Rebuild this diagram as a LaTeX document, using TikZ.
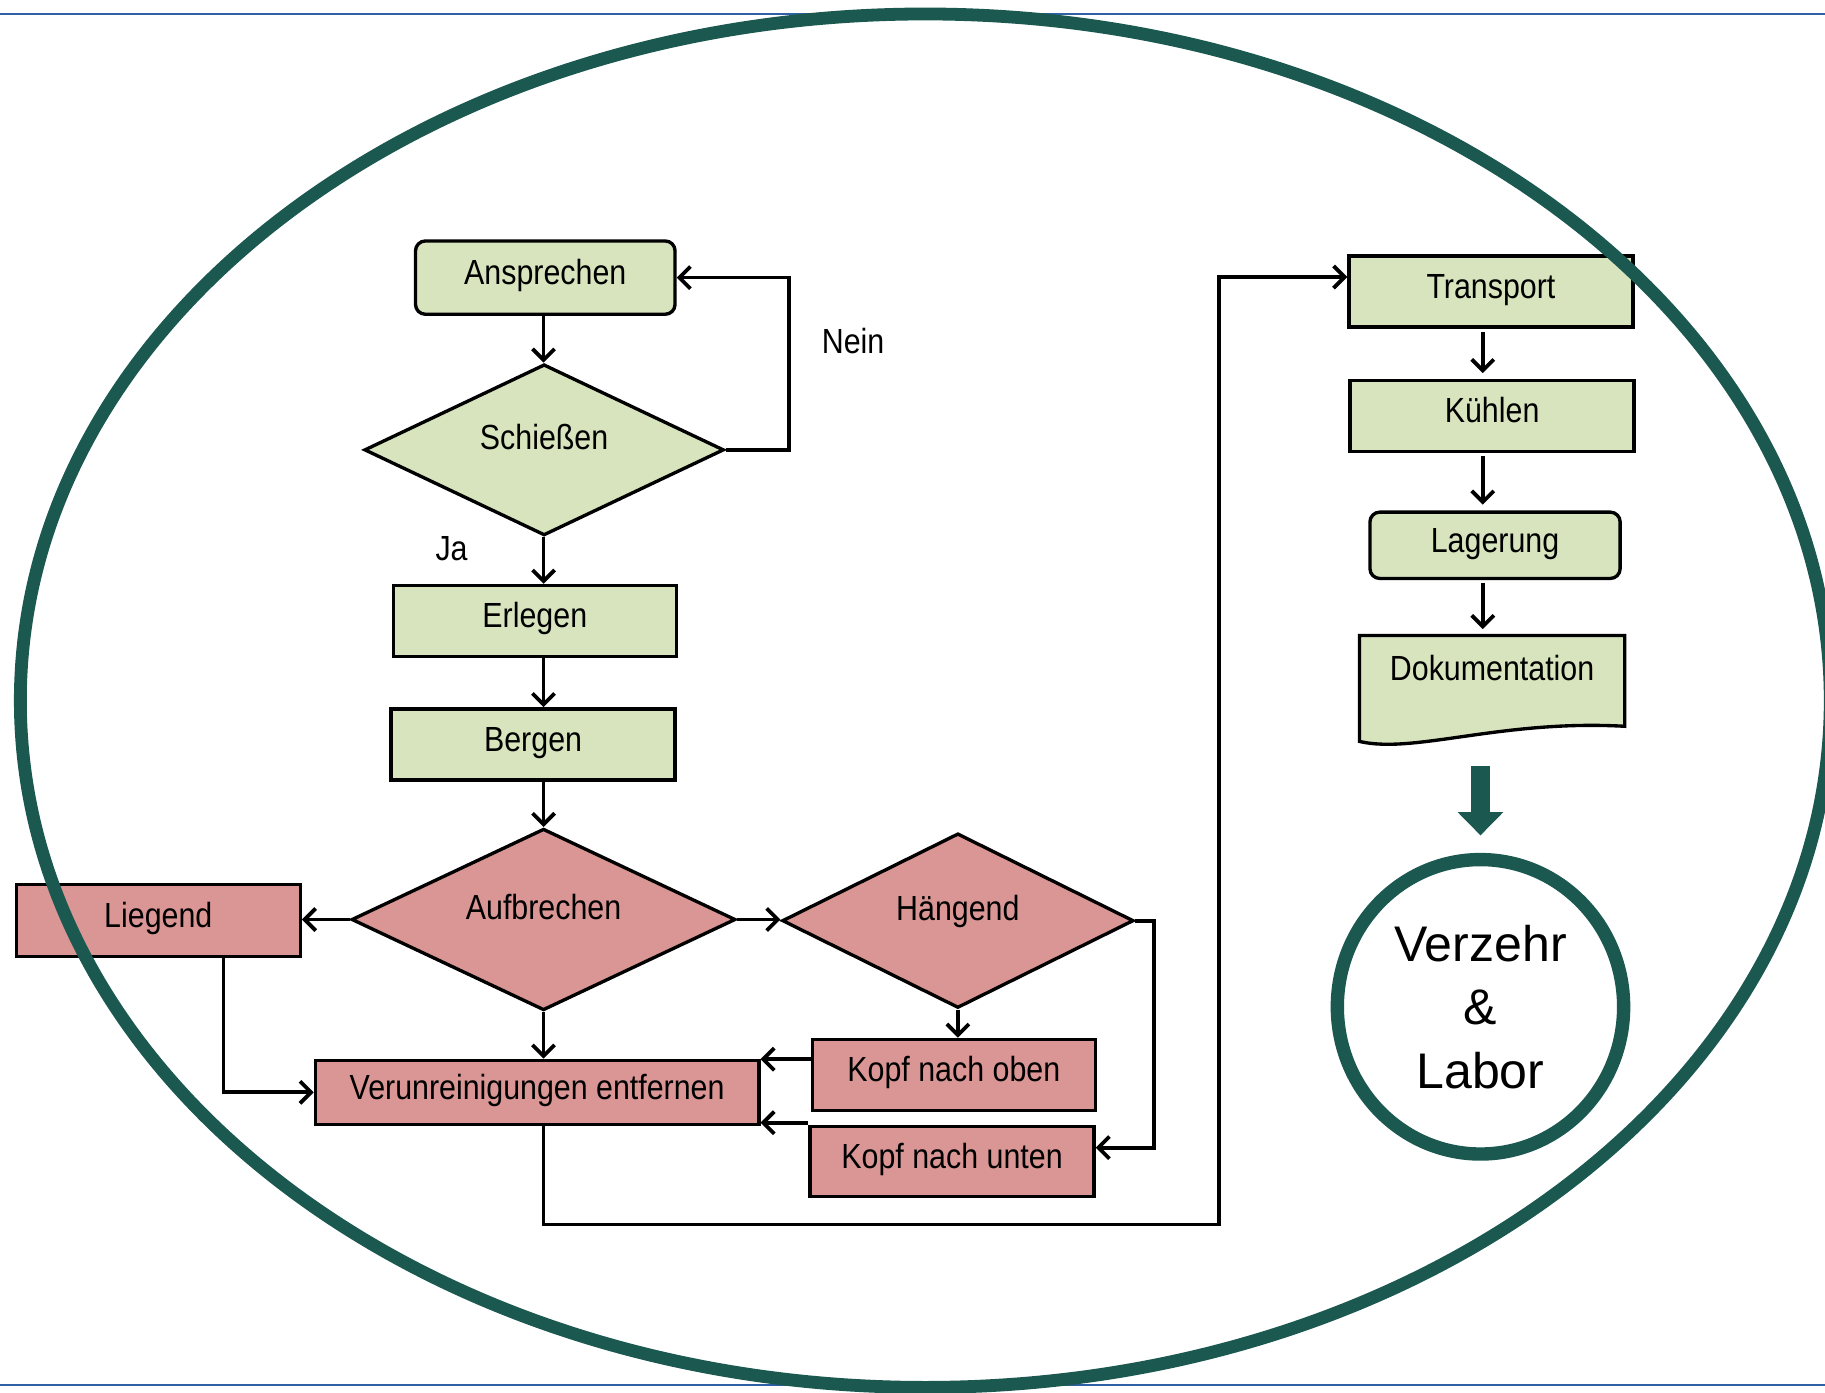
\documentclass[tikz,border=0pt]{standalone}
\usepackage{fontspec}
\setmainfont{Liberation Sans}
\newfontfamily\chartfont{Liberation Sans}[FakeStretch=0.87]
\usepackage{tikz}
\usetikzlibrary{shapes.geometric, arrows.meta, positioning}
\definecolor{leaf}{RGB}{215,228,189}
\definecolor{rose}{RGB}{217,150,148}
\definecolor{pine}{RGB}{26,88,80}
\definecolor{rule}{RGB}{46,96,166}
\tikzstyle{sheet}=[x=0.4pt,y=-0.4pt]
\tikzstyle{lbl}=[font=\chartfont\fontsize{12}{14}\selectfont]
\tikzstyle{blk}=[lbl,rectangle,draw=black,line width=1.15pt,inner sep=0pt,minimum width=97.6pt,minimum height=24.4pt,text height=9pt,text depth=4.4pt]
\tikzstyle{blkG}=[blk,fill=leaf]
\tikzstyle{blkR}=[blk,fill=rose]
\tikzstyle{rnd}=[blkG,rounded corners=3.4pt]
\tikzstyle{dec}=[blk,diamond,shape aspect=2,text depth=9.2pt]
\tikzstyle{decG}=[dec,fill=leaf]
\tikzstyle{decR}=[dec,fill=rose]
\tikzstyle{jmp}=[-{Straight Barb[length=3.8pt,width=7.6pt]},line width=1.3pt]
\tikzstyle{fat}=[-{Triangle[length=8pt,width=15.2pt]},line width=6.4pt,pine]

\begin{document}
\begin{tikzpicture}[sheet]
                    \useasboundingbox (0,0) rectangle (1568,1196);
                    \draw[rule,line width=0.6pt] (0,12) -- (1568,12) (0,1190) -- (1568,1190);
                    \node[rnd,minimum width=89.2pt,minimum height=25.2pt] (ansprechen) at (468.5,238.5) {Ansprechen};
                    \node[decG,minimum width=123.6pt,minimum height=58.8pt] (schiessen) at (467.5,386.5) {Schießen};
                    \node[blkG,minimum width=97.2pt] (erlegen) at (459.5,533.5) {Erlegen};
                    \node[blkG] (bergen) at (458,639.5) {Bergen};
                    \node[decR,minimum width=132pt,minimum height=62.4pt] (aufbrechen) at (467,790) {Aufbrechen};
                    \node[decR,minimum width=120.8pt,minimum height=60pt] (haengend) at (823,791) {Hängend};
                    \node[blkR,minimum height=24.8pt] (liegend) at (136,791) {Liegend};
                    \node[blkR,minimum width=152.4pt,minimum height=22pt] (verunr) at (461.5,938.5) {Verunreinigungen entfernen};
                    \node[blkR,minimum width=97.2pt] (kopfoben) at (819.5,923.5) {Kopf nach oben};
                    \node[blkR,minimum height=24pt] (kopfunten) at (818,998) {Kopf nach unten};
                    \node[blkG] (transport) at (1281,250.5) {Transport};
                    \node[blkG] (kuehlen) at (1282,357.5) {Kühlen};
                    \node[rnd,minimum width=86pt,minimum height=22.8pt] (lagerung) at (1284.5,468.5) {Lagerung};
                    \filldraw[fill=leaf,line width=1.15pt] (1168,546) -- (1396,546) -- (1396,624)
                        .. controls (1290,618) and (1215,648) .. (1168,637) -- cycle;
                    \node[lbl,inner sep=0pt,minimum width=91.2pt,minimum height=36.4pt,text height=9pt,text depth=14.4pt] (doc) at (1282,591.5) {Dokumentation};
                    \node[ellipse,draw=pine,line width=4.6pt,minimum width=98.4pt,minimum height=101.2pt,align=center,
                        font=\fontsize{17.2}{21.8}\selectfont] (verzehr) at (1272,865) {Verzehr\\\&\\Labor};
                    \node[lbl] (nein) at (733,293) {Nein};
                    \node[lbl] (ja) at (388,471) {Ja};
                    \foreach \a/\b in {ansprechen/schiessen, schiessen/erlegen, erlegen/bergen, bergen/aufbrechen, aufbrechen/verunr}
                        {\draw[jmp] (\a.south -| aufbrechen) -- (\b.north -| aufbrechen);}
                    \coordinate (spine) at (1274,0);
                    \foreach \a/\b in {transport/kuehlen, kuehlen/lagerung, lagerung/doc}
                        {\draw[jmp,shorten <=1pt,shorten >=2pt] (\a.south -| spine) -- (\b.north -| spine);}
                    \coordinate (loop) at (678,238.5);
                    \draw[jmp] (schiessen.east) -| (loop) -- (ansprechen.east);
                    \draw[jmp] (aufbrechen.west) -- (aufbrechen.west -| liegend.east);
                    \draw[jmp] (aufbrechen.east) -- (aufbrechen.east -| haengend.west);
                    \draw[jmp] ([xshift=22.4pt]liegend.south) |- (verunr.west);
                    \draw[jmp] (haengend.south) -- (haengend.south |- kopfoben.north);
                    \coordinate (kick) at ([yshift=4.8pt]kopfunten.east);
                    \draw[jmp] (haengend.east) -- ++(16,0) |- (kick);
                    \coordinate (up1) at ([yshift=5.4pt]kopfoben.west);
                    \coordinate (up2) at ([yshift=0.8pt]kopfunten.north west);
                    \draw[jmp] (up1) -- (up1 -| verunr.east);
                    \draw[jmp] (up2) -- (up2 -| verunr.east);
                    \coordinate (turn) at (1047,1052);
                    \coordinate (entry) at ([yshift=5pt]transport.west);
                    \draw[jmp] (verunr.south -| aufbrechen) |- (turn) |- (entry);
                    \coordinate (fattop) at ([yshift=-8.4pt]doc.south);
                    \coordinate (fatend) at ([yshift=6pt]verzehr.north);
                    \draw[fat] (fattop -| verzehr) -- (fatend);
                    \begin{scope}
                        \clip (0,0) rectangle (1568,1196);
                        \draw[pine,line width=4.4pt] (795,602) ellipse [x radius=311pt,y radius=236pt];
                    \end{scope}
                \end{tikzpicture}
\end{document}
